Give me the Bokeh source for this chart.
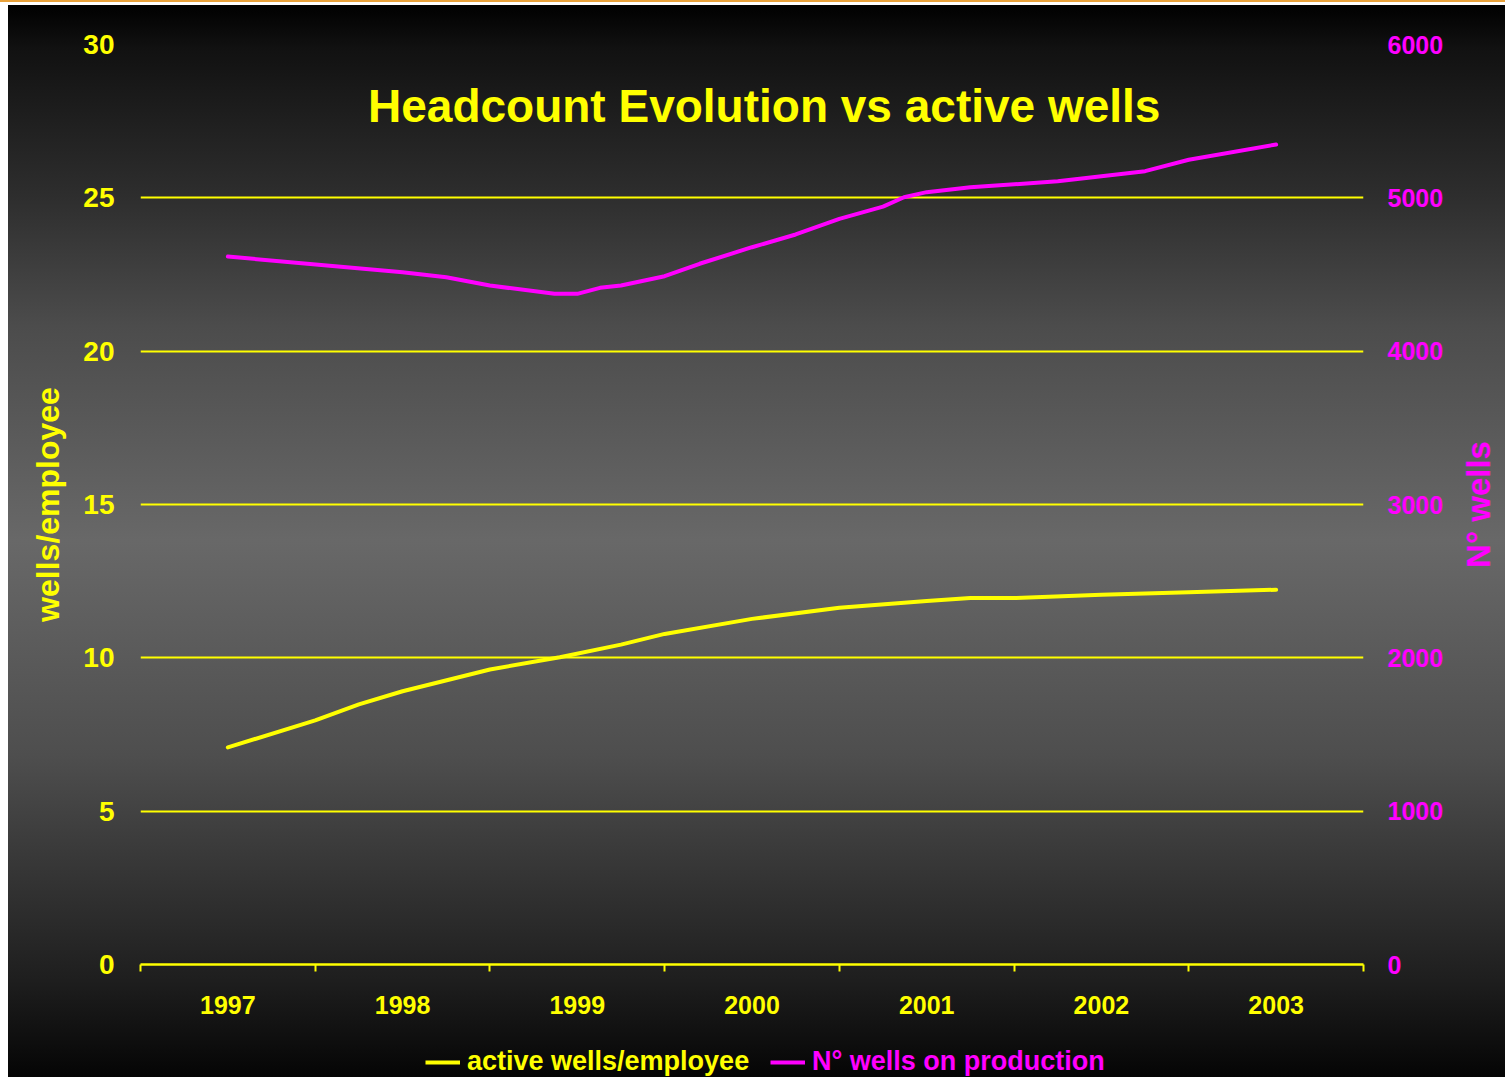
import math

from bokeh.plotting import figure
from bokeh.models import (Range1d, LinearAxis, FixedTicker, Legend, LegendItem,
                          Label, Div)
from bokeh.layouts import column
from bokeh.embed import file_html
from bokeh.resources import INLINE

# ---- data -------------------------------------------------------------
years = [1997, 1998, 1999, 2000, 2001, 2002, 2003]
year_labels = ["1997", "1998", "1999", "2000", "2001", "2002", "2003"]

# active wells per employee (time in fractional years)
wpe_time = [1997.0, 1997.5, 1997.75, 1998.0, 1998.5, 1998.9, 1999.25, 1999.5,
            2000.0, 2000.5, 2001.0, 2001.25, 2001.5, 2002.0, 2002.5, 2003.0]
wells_per_employee = [7.08, 7.96, 8.48, 8.91, 9.62, 10.02, 10.43, 10.78,
                      11.27, 11.63, 11.85, 11.95, 11.95, 12.06, 12.14, 12.22]

# number of wells on production
prod_time = [1997.0, 1998.0, 1998.25, 1998.5, 1998.87, 1999.0, 1999.13, 1999.25,
             1999.5, 1999.7, 2000.0, 2000.25, 2000.5, 2000.75, 2000.87, 2001.0,
             2001.25, 2001.75, 2002.25, 2002.5, 2003.0]
wells_on_production = [4617, 4515, 4482, 4428, 4374, 4374, 4413, 4428,
                       4489, 4570, 4678, 4761, 4863, 4943, 5004, 5037,
                       5069, 5108, 5174, 5248, 5348]

left_ticks = [0, 5, 10, 15, 20, 25, 30]
right_ticks = [0, 1000, 2000, 3000, 4000, 5000, 6000]

YELLOW = "#FFFF00"
MAGENTA = "#FF00FF"
FONT = "Liberation Sans"

# ---- main chart -------------------------------------------------------
p = figure(width=1505, height=1035,
           x_range=Range1d(years[0] - 0.5, years[-1] + 0.5),
           y_range=Range1d(left_ticks[0], left_ticks[-1]),
           output_backend="svg", toolbar_location=None,
           min_border_left=140, min_border_right=142,
           min_border_top=39, min_border_bottom=76,
           background_fill_alpha=0, border_fill_alpha=0,
           outline_line_color=None)

p.extra_y_ranges = {"wells": Range1d(right_ticks[0], right_ticks[-1])}

# x axis: year labels centred, tick marks between the years
xa = p.xaxis[0]
xa.ticker = FixedTicker(ticks=years, minor_ticks=[y - 0.5 for y in years] + [years[-1] + 0.5])
xa.major_label_overrides = {y: lab for y, lab in zip(years, year_labels)}
xa.major_tick_out = 0
xa.major_tick_in = 0
xa.minor_tick_out = 7
xa.minor_tick_in = 0
xa.minor_tick_line_color = YELLOW
xa.minor_tick_line_width = 2
xa.axis_line_color = YELLOW
xa.axis_line_width = 2.5
xa.major_label_text_color = YELLOW
xa.major_label_text_font = FONT
xa.major_label_text_font_style = "bold"
xa.major_label_text_font_size = "25px"
xa.major_label_standoff = 24

# left axis
ya = p.yaxis[0]
ya.ticker = FixedTicker(ticks=left_ticks)
ya.axis_line_color = None
ya.major_tick_line_color = None
ya.minor_tick_line_color = None
ya.major_label_text_color = YELLOW
ya.major_label_text_font = FONT
ya.major_label_text_font_style = "bold"
ya.major_label_text_font_size = "28px"
ya.major_label_standoff = 20
ya.axis_label = "wells/employee"
ya.axis_label_text_color = YELLOW
ya.axis_label_text_font = FONT
ya.axis_label_text_font_style = "bold"
ya.axis_label_text_font_size = "32px"
ya.axis_label_standoff = 14

# right axis: tick labels
ra = LinearAxis(y_range_name="wells", ticker=FixedTicker(ticks=right_ticks))
ra.axis_line_color = None
ra.major_tick_line_color = None
ra.minor_tick_line_color = None
ra.major_label_text_color = MAGENTA
ra.major_label_text_font = FONT
ra.major_label_text_font_style = "bold"
ra.major_label_text_font_size = "25px"
ra.major_label_standoff = 18
p.add_layout(ra, "right")

# right axis title, reading bottom-to-top, centred on the plot height
right_title = Label(x=2004.158, y=15.0, text="N° wells", angle=math.pi / 2,
                    text_color=MAGENTA, text_font=FONT, text_font_style="bold",
                    text_font_size="33px", text_align="center",
                    text_baseline="middle")
p.add_layout(right_title, "right")

p.xgrid.visible = False
p.ygrid.ticker = FixedTicker(ticks=left_ticks)
p.ygrid.grid_line_color = YELLOW
p.ygrid.grid_line_width = 1.8

# ---- series -----------------------------------------------------------
r1 = p.line(wpe_time, wells_per_employee, line_color=YELLOW, line_width=4,
            line_cap="round", line_join="round")
r2 = p.line(prod_time, wells_on_production, y_range_name="wells",
            line_color=MAGENTA, line_width=4, line_cap="round", line_join="round")

# ---- title ------------------------------------------------------------
title = Label(x=2000.07, y=28.0, text="Headcount Evolution vs active wells",
              text_color=YELLOW, text_font=FONT, text_font_style="bold",
              text_font_size="46px", text_align="center", text_baseline="middle")
p.add_layout(title)

# ---- legend strip (one legend per series so each label keeps its colour) --
lp = figure(width=1505, height=37, x_range=Range1d(0, 1), y_range=Range1d(0, 1),
            output_backend="svg", toolbar_location=None,
            x_axis_location=None, y_axis_location=None,
            min_border=0, background_fill_alpha=0, border_fill_alpha=0,
            outline_line_color=None)
lp.grid.visible = False
nan = float("nan")
# key holders: a single NaN point each, so only their legend swatch is drawn
k1 = lp.line(x=[nan], y=[nan], line_color=YELLOW, line_width=4)
k2 = lp.line(x=[nan], y=[nan], line_color=MAGENTA, line_width=4)


def make_legend(item_label, renderer, color, loc):
    return Legend(items=[LegendItem(label=item_label, renderers=[renderer])],
                  location=loc, orientation="horizontal",
                  label_text_color=color, label_text_font=FONT,
                  label_text_font_style="bold", label_text_font_size="27px",
                  glyph_width=35, glyph_height=30, label_height=30,
                  label_standoff=7, padding=0, margin=0,
                  background_fill_alpha=0, border_line_color=None)


# the strip's frame is aligned with the chart's frame (left edge at 140 px)
lp.add_layout(make_legend("active wells/employee", k1, YELLOW, (285, 0)))
lp.add_layout(make_legend("N° wells on production", k2, MAGENTA, (630, 0)))

top_bar = Div(width=1505, height=2, margin=(0, 0, 3, 0),
              styles={"background-color": "#E9A23B"})

layout = column(top_bar, p, lp, spacing=0)
layout.styles = {
    "background-color": "white",
    "background-image": "linear-gradient(to bottom, #000000 0%, #111111 4%, "
                        "#2e2e2e 18%, #4c4c4c 30%, #686868 50%, #4e4e4e 70%, "
                        "#2c2c2c 85%, #1e1e1e 91%, #050505 100%)",
    "background-position": "8px 5px",
    "background-size": "1497px 1072px",
    "background-repeat": "no-repeat",
}

open("out.html", "w").write(file_html(layout, INLINE))
